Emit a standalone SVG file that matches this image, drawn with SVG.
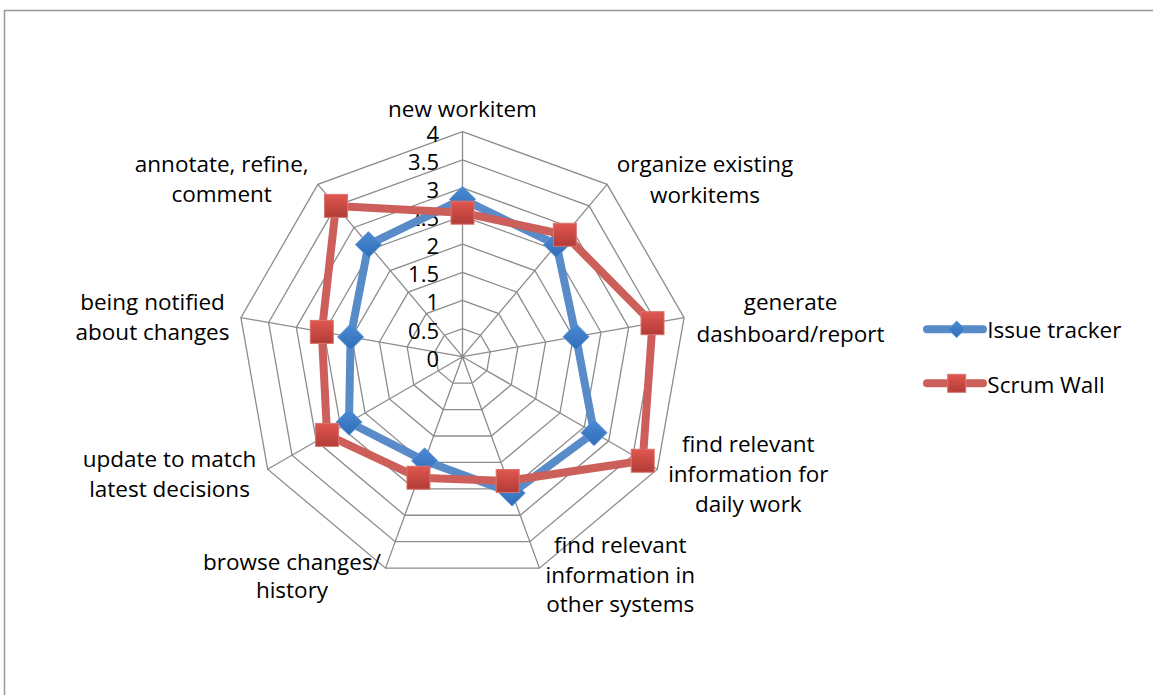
<svg xmlns="http://www.w3.org/2000/svg" width="1153" height="695" viewBox="0 0 1153 695">
  <style>
    .lbl { font-family: "Open Sans", "Liberation Sans", sans-serif; font-size: 22.5px; fill: #000; text-anchor: middle; }
    .tick { font-family: "Open Sans", "Liberation Sans", sans-serif; font-size: 22px; fill: #000; text-anchor: end; }
    .leg { font-family: "Open Sans", "Liberation Sans", sans-serif; font-size: 22.5px; fill: #000; }
    .grid { fill: none; stroke: #8c8c8c; stroke-width: 1.3; }
    .blue-line { fill: none; stroke: #5a8bc9; stroke-width: 8; stroke-linejoin: round; stroke-linecap: round; }
    .red-line { fill: none; stroke: #cc5f5a; stroke-width: 8; stroke-linejoin: round; stroke-linecap: round; }
  </style>
  <defs>
    <linearGradient id="gRed" x1="0" y1="0" x2="0" y2="1">
      <stop offset="0" stop-color="#e0574f"/>
      <stop offset="1" stop-color="#b23c37"/>
    </linearGradient>
    <linearGradient id="gBlue" x1="0" y1="0" x2="0" y2="1">
      <stop offset="0" stop-color="#4c8ad6"/>
      <stop offset="1" stop-color="#2f6db5"/>
    </linearGradient>
    <rect id="sq" x="-11.5" y="-11.5" width="23" height="23" fill="url(#gRed)" stroke="#d9746f" stroke-width="1"/>
    <polygon id="dm" points="0,-13 13,0 0,13 -13,0" fill="url(#gBlue)" stroke="#5b93d6" stroke-width="1"/>
  </defs>

  <rect x="0" y="0" width="1153" height="695" fill="#fff"/>
  <polyline points="4.5,695 4.5,10.5 1153,10.5" fill="none" stroke="#999" stroke-width="1.5"/>

  <g id="grid" transform="translate(462.5 356.7)">
    <polygon class="grid" points="0,-28.13 18.08,-21.54 27.7,-4.88 24.36,14.06 9.62,26.43 -9.62,26.43 -24.36,14.06 -27.7,-4.88 -18.08,-21.54"/>
    <polygon class="grid" points="0,-56.25 36.16,-43.09 55.4,-9.77 48.71,28.13 19.24,52.86 -19.24,52.86 -48.71,28.13 -55.4,-9.77 -36.16,-43.09"/>
    <polygon class="grid" points="0,-84.38 54.24,-64.63 83.09,-14.65 73.07,42.19 28.86,79.29 -28.86,79.29 -73.07,42.19 -83.09,-14.65 -54.24,-64.63"/>
    <polygon class="grid" points="0,-112.5 72.32,-86.18 110.79,-19.53 97.43,56.25 38.48,105.72 -38.48,105.72 -97.43,56.25 -110.79,-19.53 -72.32,-86.18"/>
    <polygon class="grid" points="0,-140.63 90.39,-107.72 138.49,-24.41 121.78,70.31 48.09,132.14 -48.09,132.14 -121.78,70.31 -138.49,-24.41 -90.39,-107.72"/>
    <polygon class="grid" points="0,-168.75 108.47,-129.26 166.19,-29.3 146.14,84.38 57.71,158.57 -57.71,158.57 -146.14,84.38 -166.19,-29.3 -108.47,-129.26"/>
    <polygon class="grid" points="0,-196.88 126.55,-150.81 193.88,-34.18 170.49,98.44 67.33,185 -67.33,185 -170.49,98.44 -193.88,-34.18 -126.55,-150.81"/>
    <polygon class="grid" points="0,-225 144.63,-172.35 221.58,-39.06 194.85,112.5 76.95,211.43 -76.95,211.43 -194.85,112.5 -221.58,-39.06 -144.63,-172.35"/>
    <path class="grid" d="M0,0 L0,-225 M0,0 L144.63,-172.35 M0,0 L221.58,-39.06 M0,0 L194.85,112.5 M0,0 L76.95,211.43 M0,0 L-76.95,211.43 M0,0 L-194.85,112.5 M0,0 L-221.58,-39.06 M0,0 L-144.63,-172.35"/>
  </g>

  <g id="ticks">
    <text class="tick" x="439" y="141.7">4</text>
    <text class="tick" x="439" y="169.8">3.5</text>
    <text class="tick" x="439" y="197.9">3</text>
    <text class="tick" x="439" y="226.1">2.5</text>
    <text class="tick" x="439" y="254.2">2</text>
    <text class="tick" x="439" y="282.3">1.5</text>
    <text class="tick" x="439" y="310.4">1</text>
    <text class="tick" x="439" y="338.6">0.5</text>
    <text class="tick" x="439" y="366.7">0</text>
  </g>

  <g id="connectors" transform="translate(462.5 356.7)">
    <polygon id="series-issue-tracker" class="blue-line" points="0,-157.5 94.01,-112.03 113.56,-20.02 131.53,75.94 49.63,136.38 -37.9,104.13 -113.5,65.53 -111.9,-19.72 -94.01,-112.03"/>
    <g id="markers-issue-tracker">
      <use href="#dm" x="0" y="-157.5"/>
      <use href="#dm" x="94.01" y="-112.03"/>
      <use href="#dm" x="113.56" y="-20.02"/>
      <use href="#dm" x="131.53" y="75.94"/>
      <use href="#dm" x="49.63" y="136.38"/>
      <use href="#dm" x="-37.9" y="104.13"/>
      <use href="#dm" x="-113.5" y="65.53"/>
      <use href="#dm" x="-111.9" y="-19.72"/>
      <use href="#dm" x="-94.01" y="-112.03"/>
    </g>
    <polygon id="series-scrum-wall" class="red-line" points="0,-144 102.33,-121.94 190.01,-33.49 180.24,104.06 45.21,124.22 -44.05,121.04 -135.42,78.19 -140.71,-24.8 -126.55,-150.81"/>
    <g id="markers-scrum-wall">
      <use href="#sq" x="0" y="-144"/>
      <use href="#sq" x="102.33" y="-121.94"/>
      <use href="#sq" x="190.01" y="-33.49"/>
      <use href="#sq" x="180.24" y="104.06"/>
      <use href="#sq" x="45.21" y="124.22"/>
      <use href="#sq" x="-44.05" y="121.04"/>
      <use href="#sq" x="-135.42" y="78.19"/>
      <use href="#sq" x="-140.71" y="-24.8"/>
      <use href="#sq" x="-126.55" y="-150.81"/>
    </g>
  </g>

  <g id="axis-new-workitem"><text class="lbl" x="462.5" y="116.7">new workitem</text></g>
  <g id="axis-organize"><text class="lbl" x="705" y="171.5">organize existing</text><text class="lbl" x="705" y="203.3">workitems</text></g>
  <g id="axis-generate"><text class="lbl" x="790.5" y="310">generate</text><text class="lbl" x="790.5" y="341.7">dashboard/report</text></g>
  <g id="axis-daily-work"><text class="lbl" x="748.3" y="451.7">find relevant</text><text class="lbl" x="748.3" y="481.7">information for</text><text class="lbl" x="748.3" y="511.7">daily work</text></g>
  <g id="axis-other-systems"><text class="lbl" x="620.3" y="553.3">find relevant</text><text class="lbl" x="620.3" y="583.3">information in</text><text class="lbl" x="620.3" y="611.7">other systems</text></g>
  <g id="axis-browse"><text class="lbl" x="292" y="570">browse changes/</text><text class="lbl" x="292" y="598.3">history</text></g>
  <g id="axis-update"><text class="lbl" x="169.5" y="466.7">update to match</text><text class="lbl" x="169.5" y="496.7">latest decisions</text></g>
  <g id="axis-notified"><text class="lbl" x="152.5" y="310">being notified</text><text class="lbl" x="152.5" y="340">about changes</text></g>
  <g id="axis-annotate"><text class="lbl" x="221.7" y="171.7">annotate, refine,</text><text class="lbl" x="221.7" y="201.7">comment</text></g>

  <g id="legend">
    <g id="legend-issue-tracker">
      <line x1="927" y1="329.3" x2="983" y2="329.3" class="blue-line"/>
      <polygon points="956.7,321 965,329.3 956.7,337.6 948.4,329.3" fill="url(#gBlue)" stroke="#5b93d6" stroke-width="1"/>
      <text class="leg" x="987.3" y="338.3">Issue tracker</text>
    </g>
    <g id="legend-scrum-wall">
      <line x1="927" y1="383.3" x2="983" y2="383.3" class="red-line"/>
      <rect x="947.7" y="374.3" width="18" height="18" fill="url(#gRed)" stroke="#d9746f" stroke-width="1"/>
      <text class="leg" x="987.3" y="392.7">Scrum Wall</text>
    </g>
  </g>
</svg>
